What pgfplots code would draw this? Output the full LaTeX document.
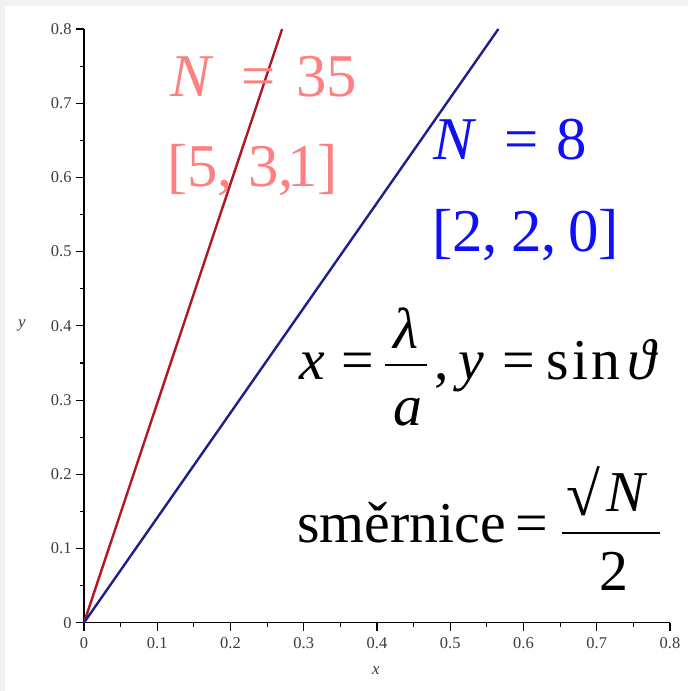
\documentclass[border=0pt]{standalone}
\usepackage{fix-cm}
\usepackage{fontspec}
\setmainfont{Liberation Serif}
\usepackage{pgfplots}
\pgfplotsset{compat=1.18}

\definecolor{bgframe}{RGB}{242,242,242}
\definecolor{lineRed}{RGB}{178,24,36}
\definecolor{lineBlue}{RGB}{30,30,140}
\definecolor{txtRed}{RGB}{255,128,128}
\definecolor{txtBlue}{RGB}{15,15,250}
\definecolor{tickGray}{RGB}{60,60,60}

\newcommand{\bigsize}{\fontsize{61}{63}\selectfont}
\newcommand{\formula}{\fontsize{58}{60}\selectfont}
% text pieces placed by x and by baseline, both counted from the top-left corner of the page
\newcommand{\T}[4]{\node[anchor=base west, inner sep=0pt, text=#1] at (#2,691-#3) {#4};}
\newcommand{\C}[4]{\node[anchor=base, inner sep=0pt, text=#1] at (#2,691-#3) {#4};}

\begin{document}
\begin{tikzpicture}[x=1bp,y=1bp]
% page frame; the axis origin sits at (84,68.3) of the page
\begin{scope}[shift={(-84bp,-68.3bp)}]
\useasboundingbox (0,0) rectangle (688,691);
\fill[bgframe] (0,0) rectangle (688,691);
\fill[white] (5,0) rectangle (688,685);
\end{scope}

\begin{axis}[
  at={(0,0)}, anchor=origin,
  scale only axis,
  width=586bp, height=593.7bp,
  xmin=0, xmax=0.8, ymin=0, ymax=0.8,
  axis x line=bottom, axis y line=left,
  axis line style={-, line width=1.3bp, black},
  tick align=outside,
  major tick length=8bp, minor tick length=4bp,
  minor tick num=1,
  tick style={line width=1.1bp, black},
  xtick={0,0.1,0.2,0.3,0.4,0.5,0.6,0.7,0.8},
  ytick={0,0.1,0.2,0.3,0.4,0.5,0.6,0.7,0.8},
  ticklabel style={font=\fontsize{16.5}{18}\selectfont, text=tickGray},
  xticklabel style={yshift=-3bp},
  yticklabel style={xshift=-1bp},
  /pgf/number format/.cd, fixed, precision=1, assume math mode=true,
  /pgfplots/.cd,
  xlabel={\textit{x}}, ylabel={\textit{y}},
  label style={font=\fontsize{17}{19}\selectfont, text=tickGray},
  xlabel style={at={(axis description cs:0.498,-0.08)}, anchor=center},
  ylabel style={at={(axis description cs:-0.106,0.5)}, anchor=center, rotate=-90},
  clip=false,
]
% slope sqrt(35)/2 and sqrt(8)/2, both drawn up to y = 0.8
\addplot[lineRed, line width=2.4bp] coordinates {(0,0) (0.2705,0.8)};
\addplot[lineBlue, line width=2.4bp] coordinates {(0,0) (0.5657,0.8)};
\end{axis}

\begin{scope}[shift={(-84bp,-68.3bp)}]
% N = 35, [5,3,1]
\T{txtRed}{170}{97}{\bigsize\textit{N}}
\T{txtRed}{241}{97}{\bigsize =}
\T{txtRed}{296}{97}{\bigsize 35}
\T{txtRed}{167}{187}{\bigsize [5,}
\T{txtRed}{248}{187}{\bigsize 3,}
\T{txtRed}{287}{187}{\bigsize 1]}
% N = 8, [2,2,0]
\T{txtBlue}{433}{160}{\bigsize\textit{N}}
\T{txtBlue}{504}{160}{\bigsize =}
\T{txtBlue}{556}{160}{\bigsize 8}
\T{txtBlue}{432}{252}{\bigsize [2,}
\T{txtBlue}{511}{252}{\bigsize 2,}
\T{txtBlue}{568}{252}{\bigsize 0]}

% x = lambda/a, y = sin theta
\T{black}{299}{380}{\formula\textit{x}}
\T{black}{341}{380}{\formula =}
\fill (385,691-366) rectangle (427,691-364);
\C{black}{406}{349}{\formula\textit{λ}}
\C{black}{408}{426}{\formula\textit{a}}
\T{black}{434}{380}{\formula ,}
\T{black}{458}{380}{\formula\textit{y}}
\T{black}{502}{380}{\formula =}
\T{black}{546}{380}{\formula s\hspace{4bp}i\hspace{3bp}n}
\T{black}{627}{380}{\formula\textit{ϑ}}

% slope = sqrt(N)/2
\T{black}{297}{543}{\formula směrnice}
\T{black}{515}{543}{\formula =}
\fill (562,691-534) rectangle (660,691-532);
\T{black}{566}{516}{\fontsize{62}{64}\selectfont √}
\T{black}{606}{512}{\formula\textit{N}}
\C{black}{614}{591}{\formula 2}
\end{scope}
\end{tikzpicture}
\end{document}
